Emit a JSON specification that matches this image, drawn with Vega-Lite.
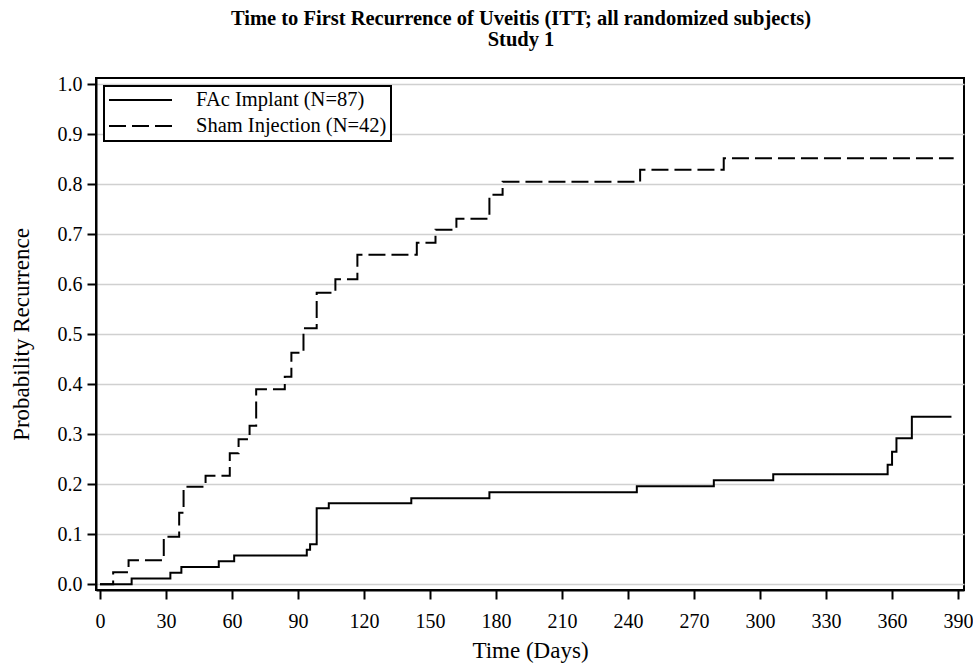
{
  "$schema": "https://vega.github.io/schema/vega-lite/v6.json",
  "width": 868,
  "height": 512,
  "autosize": {"type": "none"},
  "padding": {"left": 96, "top": 78, "right": 9, "bottom": 80},
  "background": "white",
  "title": {
    "text": ["Time to First Recurrence of Uveitis (ITT; all randomized subjects)", "Study 1"],
    "font": "Liberation Serif",
    "fontSize": 20.5,
    "fontWeight": "bold",
    "color": "black",
    "lineHeight": 20.5,
    "anchor": "middle",
    "frame": "group",
    "offset": 24,
    "dx": -9
  },
  "data": {
    "values": [
      {"series": "FAc Implant (N=87)", "day": 0, "prob": 0},
      {"series": "FAc Implant (N=87)", "day": 14.4, "prob": 0.0115},
      {"series": "FAc Implant (N=87)", "day": 32, "prob": 0.023},
      {"series": "FAc Implant (N=87)", "day": 37, "prob": 0.0345},
      {"series": "FAc Implant (N=87)", "day": 54, "prob": 0.046},
      {"series": "FAc Implant (N=87)", "day": 61, "prob": 0.0575},
      {"series": "FAc Implant (N=87)", "day": 94, "prob": 0.069},
      {"series": "FAc Implant (N=87)", "day": 95.5, "prob": 0.08},
      {"series": "FAc Implant (N=87)", "day": 98.5, "prob": 0.152},
      {"series": "FAc Implant (N=87)", "day": 104, "prob": 0.162},
      {"series": "FAc Implant (N=87)", "day": 141.5, "prob": 0.172},
      {"series": "FAc Implant (N=87)", "day": 177, "prob": 0.184},
      {"series": "FAc Implant (N=87)", "day": 244, "prob": 0.196},
      {"series": "FAc Implant (N=87)", "day": 279, "prob": 0.208},
      {"series": "FAc Implant (N=87)", "day": 306, "prob": 0.22},
      {"series": "FAc Implant (N=87)", "day": 358, "prob": 0.239},
      {"series": "FAc Implant (N=87)", "day": 360, "prob": 0.265},
      {"series": "FAc Implant (N=87)", "day": 362, "prob": 0.292},
      {"series": "FAc Implant (N=87)", "day": 369, "prob": 0.335},
      {"series": "FAc Implant (N=87)", "day": 387, "prob": 0.335},
      {"series": "Sham Injection (N=42)", "day": 0, "prob": 0},
      {"series": "Sham Injection (N=42)", "day": 6, "prob": 0.024},
      {"series": "Sham Injection (N=42)", "day": 13, "prob": 0.048},
      {"series": "Sham Injection (N=42)", "day": 29, "prob": 0.095},
      {"series": "Sham Injection (N=42)", "day": 36, "prob": 0.143},
      {"series": "Sham Injection (N=42)", "day": 38, "prob": 0.195},
      {"series": "Sham Injection (N=42)", "day": 48, "prob": 0.217},
      {"series": "Sham Injection (N=42)", "day": 59, "prob": 0.262},
      {"series": "Sham Injection (N=42)", "day": 63, "prob": 0.29},
      {"series": "Sham Injection (N=42)", "day": 68, "prob": 0.317},
      {"series": "Sham Injection (N=42)", "day": 71, "prob": 0.39},
      {"series": "Sham Injection (N=42)", "day": 84, "prob": 0.415},
      {"series": "Sham Injection (N=42)", "day": 87, "prob": 0.463},
      {"series": "Sham Injection (N=42)", "day": 92.5, "prob": 0.512},
      {"series": "Sham Injection (N=42)", "day": 98.5, "prob": 0.583},
      {"series": "Sham Injection (N=42)", "day": 107, "prob": 0.61},
      {"series": "Sham Injection (N=42)", "day": 117, "prob": 0.659},
      {"series": "Sham Injection (N=42)", "day": 144, "prob": 0.683},
      {"series": "Sham Injection (N=42)", "day": 152.5, "prob": 0.709},
      {"series": "Sham Injection (N=42)", "day": 162, "prob": 0.731},
      {"series": "Sham Injection (N=42)", "day": 177, "prob": 0.779},
      {"series": "Sham Injection (N=42)", "day": 183, "prob": 0.805},
      {"series": "Sham Injection (N=42)", "day": 245.5, "prob": 0.829},
      {"series": "Sham Injection (N=42)", "day": 283.5, "prob": 0.852},
      {"series": "Sham Injection (N=42)", "day": 388, "prob": 0.852}
    ]
  },
  "mark": {"type": "line", "interpolate": "step-after", "color": "black", "strokeWidth": 2},
  "encoding": {
    "x": {
      "field": "day",
      "type": "quantitative",
      "scale": {"domain": [-1.8, 392.7], "nice": false, "zero": false},
      "axis": {
        "values": [0, 30, 60, 90, 120, 150, 180, 210, 240, 270, 300, 330, 360, 390],
        "title": "Time (Days)",
        "grid": false,
        "labelPadding": 12,
        "titlePadding": 8
      }
    },
    "y": {
      "field": "prob",
      "type": "quantitative",
      "scale": {"domain": [-0.0114, 1.0126], "nice": false, "zero": false},
      "axis": {
        "values": [0, 0.1, 0.2, 0.3, 0.4, 0.5, 0.6, 0.7, 0.8, 0.9, 1.0],
        "format": ".1f",
        "title": "Probability Recurrence",
        "grid": true,
        "labelPadding": 5,
        "titlePadding": 24
      }
    },
    "strokeDash": {
      "field": "series",
      "type": "nominal",
      "scale": {"domain": ["FAc Implant (N=87)", "Sham Injection (N=42)"], "range": [[1, 0], [17, 6]]},
      "legend": {
        "title": null,
        "orient": "top-left",
        "offset": 8,
        "padding": 4,
        "strokeColor": "black",
        "fillColor": "white",
        "symbolType": "stroke",
        "symbolSize": 3969,
        "symbolStrokeWidth": 2,
        "symbolStrokeColor": "black",
        "clipHeight": 20,
        "labelFont": "Liberation Serif",
        "labelFontSize": 20.5,
        "labelColor": "black",
        "labelOffset": 23,
        "rowPadding": 5,
        "labelLimit": 400
      }
    }
  },
  "config": {
    "view": {"stroke": "black", "strokeWidth": 2},
    "legend": {"strokeWidth": 2},
    "axis": {
      "domainColor": "black",
      "domainWidth": 2,
      "tickColor": "black",
      "tickWidth": 2,
      "tickSize": 9,
      "labelFont": "Liberation Serif",
      "labelFontSize": 20,
      "labelColor": "black",
      "titleFont": "Liberation Serif",
      "titleFontSize": 23,
      "titleFontWeight": "normal",
      "titleColor": "black",
      "gridColor": "#d0d0d0",
      "gridWidth": 1.5
    }
  }
}
